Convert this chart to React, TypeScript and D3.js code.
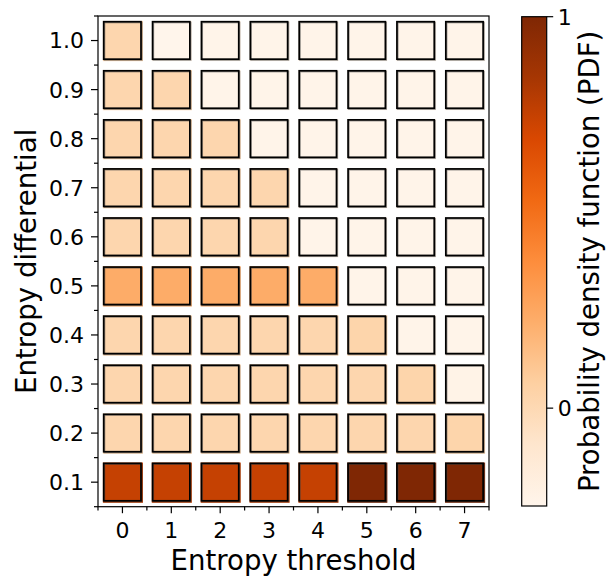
import React, { useEffect, useRef } from 'react';
import * as d3 from 'd3';

// x: entropy threshold, y: entropy differential
const thresholds = [0, 1, 2, 3, 4, 5, 6, 7];
const differentials = [0.1, 0.2, 0.3, 0.4, 0.5, 0.6, 0.7, 0.8, 0.9, 1.0];

// one row per differential (0.1 first), one value per threshold
const pdfRows = [
  [0.75, 0.75, 0.75, 0.75, 0.75, 1.0, 1.0, 1.0],
  [0.02, 0.02, 0.02, 0.02, 0.02, 0.02, 0.02, 0.03],
  [0.02, 0.02, 0.02, 0.02, 0.02, 0.02, 0.03, -0.23],
  [0.02, 0.02, 0.02, 0.02, 0.02, 0.03, -0.24, -0.24],
  [0.23, 0.23, 0.23, 0.23, 0.23, -0.24, -0.24, -0.24],
  [0.02, 0.02, 0.02, 0.02, -0.24, -0.24, -0.24, -0.24],
  [0.02, 0.02, 0.02, 0.02, -0.24, -0.24, -0.24, -0.24],
  [0.02, 0.02, 0.02, -0.24, -0.24, -0.24, -0.24, -0.24],
  [0.02, 0.02, -0.24, -0.24, -0.24, -0.24, -0.24, -0.24],
  [0.02, -0.25, -0.24, -0.24, -0.24, -0.24, -0.24, -0.24],
];

const colorbarTicks = [0, 1];
const colorDomain = [-0.25, 1];

// matplotlib "Oranges"
const orangeStops = ['#fff5eb', '#fee6ce', '#fdd0a2', '#fdae6b', '#fd8d3c', '#f16913', '#d94801', '#a63603', '#7f2704'];

const W = 606;
const H = 579;
const font = 'DejaVu Sans';

export default function App() {
  const svgRef = useRef<SVGSVGElement>(null);

  useEffect(() => {
    const svg = d3.select(svgRef.current);
    svg.selectAll('*').remove();

    const left = 98, right = 489, top = 16, bottom = 506.7;
    const x = d3.scaleLinear().domain([-0.5, 7.5]).range([left, right]);
    const y = d3.scaleLinear().domain([0.05, 1.05]).range([bottom, top]);

    const t = d3.scaleLinear().domain(colorDomain).range([0, 1]).clamp(true);
    const cmap = d3.scaleLinear<string>()
      .domain(orangeStops.map((_, i) => i / (orangeStops.length - 1)))
      .range(orangeStops)
      .interpolate(d3.interpolateRgb);
    const color = (v: number) => cmap(t(v));

    const cells = pdfRows.flatMap((row, ri) =>
      row.map((v, ci) => ({ th: thresholds[ci], df: differentials[ri], v }))
    );

    const cw = 0.8 * (x(1) - x(0));
    const ch = 0.8 * (y(0) - y(0.1));

    const g = svg.append('g');
    const cell = g.selectAll('g.cell').data(cells).join('g').attr('class', 'cell');
    cell.append('rect')
      .attr('x', d => x(d.th) - cw / 2)
      .attr('y', d => y(d.df) - ch / 2)
      .attr('width', cw + 1)
      .attr('height', ch + 1)
      .attr('fill', d => color(d.v));
    cell.append('rect')
      .attr('x', d => x(d.th) - cw / 2 + 1.6)
      .attr('y', d => y(d.df) - ch / 2 + 1.6)
      .attr('width', cw - 1.8)
      .attr('height', ch - 1.8)
      .attr('fill', 'none')
      .attr('stroke', '#444')
      .attr('stroke-opacity', 0.55)
      .attr('stroke-width', 1.6);
    cell.append('rect')
      .attr('x', d => x(d.th) - cw / 2 + 0.8)
      .attr('y', d => y(d.df) - ch / 2 + 0.8)
      .attr('width', cw - 1.8)
      .attr('height', ch - 1.8)
      .attr('fill', 'none')
      .attr('stroke', '#000')
      .attr('stroke-width', 1.7);

    // frame
    svg.append('rect')
      .attr('x', left).attr('y', top)
      .attr('width', right - left).attr('height', bottom - top)
      .attr('fill', 'none').attr('stroke', '#000').attr('stroke-width', 1.2);

    const axes = svg.append('g').attr('stroke', '#000').attr('stroke-width', 1.2);
    // x ticks
    axes.selectAll('line.xmaj').data(thresholds).join('line')
      .attr('x1', d => x(d)).attr('x2', d => x(d))
      .attr('y1', bottom).attr('y2', bottom + 6.5);
    axes.selectAll('line.xmin').data(d3.range(-0.5, 8, 1)).join('line')
      .attr('x1', d => x(d)).attr('x2', d => x(d))
      .attr('y1', bottom).attr('y2', bottom + 3.8);
    // y ticks
    axes.selectAll('line.ymaj').data(differentials).join('line')
      .attr('x1', left - 7).attr('x2', left)
      .attr('y1', d => y(d)).attr('y2', d => y(d));
    axes.selectAll('line.ymin').data(d3.range(0, 11).map(i => 0.05 + i * 0.1)).join('line')
      .attr('x1', left - 4).attr('x2', left)
      .attr('y1', d => y(d)).attr('y2', d => y(d));

    const tickFs = 22;
    svg.append('g').selectAll('text').data(thresholds).join('text')
      .attr('x', d => x(d)).attr('y', 537.5)
      .attr('text-anchor', 'middle')
      .attr('font-family', font).attr('font-size', tickFs)
      .text(d => String(d));
    svg.append('g').selectAll('text').data(differentials).join('text')
      .attr('x', left - 14).attr('y', d => y(d) + tickFs * 0.36)
      .attr('text-anchor', 'end')
      .attr('font-family', font).attr('font-size', tickFs)
      .text(d => d3.format('.1f')(d));

    const labFs = 27.6;
    svg.append('text')
      .attr('x', (left + right) / 2).attr('y', 570)
      .attr('text-anchor', 'middle')
      .attr('font-family', font).attr('font-size', labFs)
      .text('Entropy threshold');
    svg.append('text')
      .attr('transform', `translate(36,${(top + bottom) / 2}) rotate(-90)`)
      .attr('text-anchor', 'middle')
      .attr('font-family', font).attr('font-size', labFs)
      .text('Entropy differential');

    // colorbar
    const cbL = 521.7, cbR = 546.7, cbT = 16.7, cbB = 506;
    const cy = d3.scaleLinear().domain(colorDomain).range([cbB, cbT]);
    const grad = svg.append('defs').append('linearGradient')
      .attr('id', 'cbGrad').attr('x1', 0).attr('y1', 1).attr('x2', 0).attr('y2', 0);
    grad.selectAll('stop').data(orangeStops).join('stop')
      .attr('offset', (_, i) => i / (orangeStops.length - 1))
      .attr('stop-color', d => d);
    svg.append('rect')
      .attr('x', cbL).attr('y', cbT).attr('width', cbR - cbL).attr('height', cbB - cbT)
      .attr('fill', 'url(#cbGrad)').attr('stroke', '#000').attr('stroke-width', 1.2);
    svg.append('g').selectAll('line').data(colorbarTicks).join('line')
      .attr('x1', cbR).attr('x2', cbR + 6.5)
      .attr('y1', d => cy(d)).attr('y2', d => cy(d))
      .attr('stroke', '#000').attr('stroke-width', 1.2);
    svg.append('g').selectAll('text').data(colorbarTicks).join('text')
      .attr('x', cbR + 11).attr('y', d => cy(d) + tickFs * 0.36)
      .attr('font-family', font).attr('font-size', tickFs)
      .text(d => String(d));
    svg.append('text')
      .attr('transform', `translate(599,${(cbT + cbB) / 2}) rotate(-90)`)
      .attr('text-anchor', 'middle')
      .attr('font-family', font).attr('font-size', labFs)
      .text('Probability density function (PDF)');
  }, []);

  return (
    <svg ref={svgRef} width={W} height={H}
      style={{ position: 'absolute', left: 0, top: 0, background: '#fff' }} />
  );
}
